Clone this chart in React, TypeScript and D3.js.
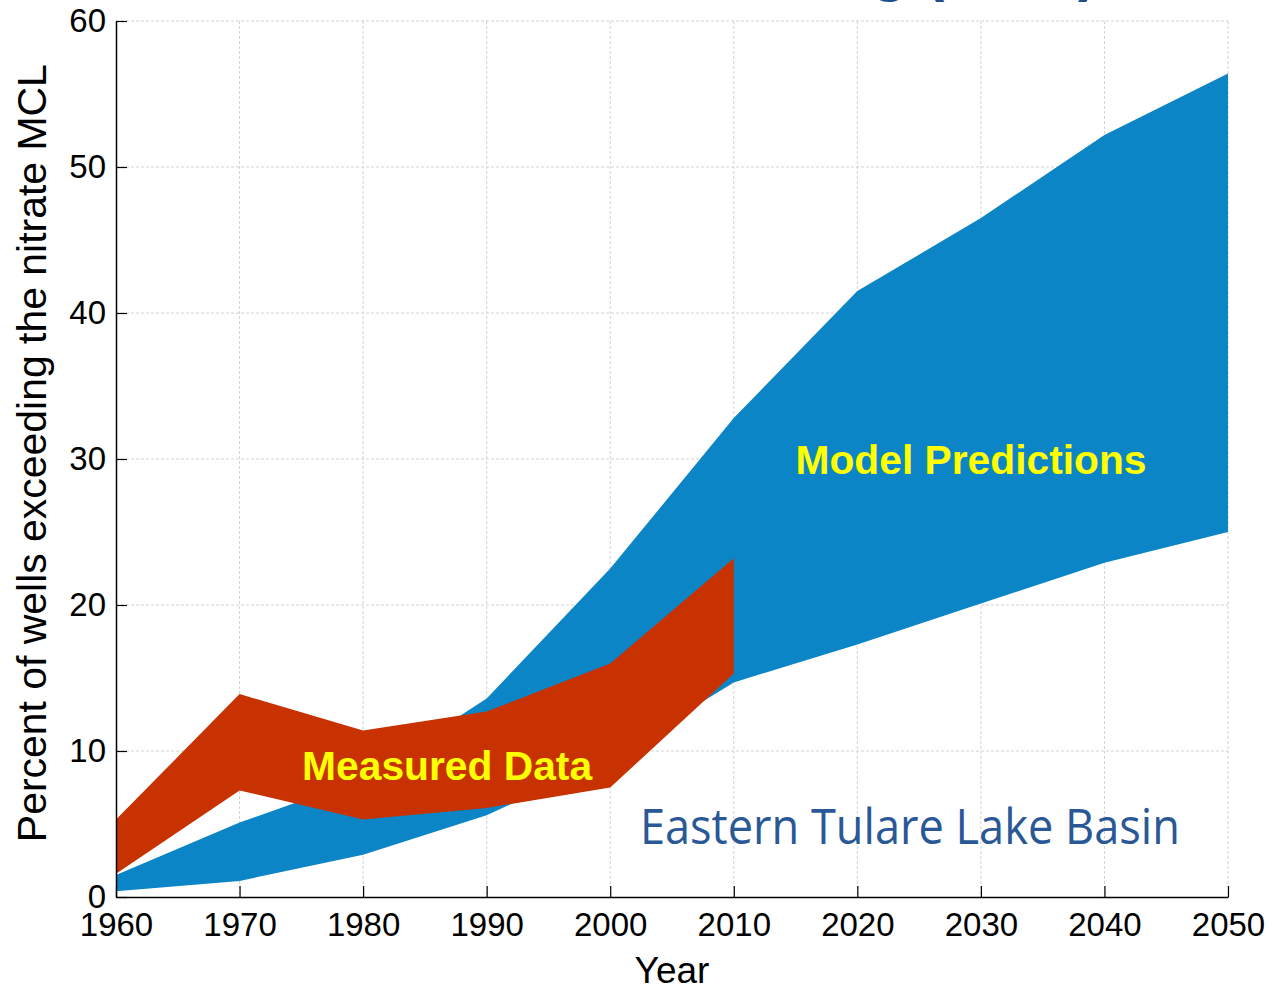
import React, { useEffect, useRef } from 'react';
import * as d3 from 'd3';

// years for each band
const modelYears = [1960, 1970, 1980, 1990, 2000, 2010, 2020, 2030, 2040, 2050];
const modelLow = [0.4, 1.1, 2.9, 5.6, 9.5, 14.7, 17.3, 20.1, 22.9, 25.0];
const modelHigh = [1.5, 5.1, 8.1, 13.6, 22.5, 32.8, 41.5, 46.5, 52.2, 56.4];

const measuredYears = [1960, 1970, 1980, 1990, 2000, 2010];
const measuredLow = [1.6, 7.3, 5.3, 6.1, 7.5, 15.3];
const measuredHigh = [5.3, 13.9, 11.4, 12.7, 16.0, 23.2];

const xTicks = [1960, 1970, 1980, 1990, 2000, 2010, 2020, 2030, 2040, 2050];
const yTicks = [0, 10, 20, 30, 40, 50, 60];

const BLUE = '#0c85c7';
const RED = '#c83200';
const YELLOW = '#ffff00';
const LABEL_BLUE = '#2a5896';
const FONT = '"Liberation Sans", Arial, sans-serif';

const App: React.FC = () => {
  const svgRef = useRef<SVGSVGElement | null>(null);

  useEffect(() => {
    if (!svgRef.current) return;
    document.body.style.margin = '0';

    const svg = d3.select(svgRef.current);
    svg.selectAll('*').remove();

    const margin = { top: 21, right: 44, bottom: 90, left: 116 };
    const width = 1272;
    const height = 987;
    const innerWidth = width - margin.left - margin.right;
    const innerHeight = height - margin.top - margin.bottom;

    const x = d3.scaleLinear().domain([1960, 2050]).range([0, innerWidth]);
    const y = d3.scaleLinear().domain([0, 60]).range([innerHeight, 0]);

    // partially cut-off title at the very top
    svg.append('text')
      .attr('x', 1098)
      .attr('y', -10)
      .attr('text-anchor', 'end')
      .attr('font-family', FONT)
      .attr('font-weight', 'bold')
      .attr('font-size', 60)
      .attr('fill', '#1f4e8c')
      .text('Nitrate Modeling (2050)');

    const g = svg.append('g')
      .attr('transform', `translate(${margin.left},${margin.top})`);

    // grid
    const grid = g.append('g');
    grid.selectAll('line.gx')
      .data(xTicks.slice(1))
      .enter().append('line')
      .attr('x1', d => x(d)).attr('x2', d => x(d))
      .attr('y1', 0).attr('y2', innerHeight)
      .attr('stroke', '#d2d2d2').attr('stroke-width', 1)
      .attr('stroke-dasharray', '3,2');
    grid.selectAll('line.gy')
      .data(yTicks.slice(1))
      .enter().append('line')
      .attr('x1', 0).attr('x2', innerWidth)
      .attr('y1', d => y(d)).attr('y2', d => y(d))
      .attr('stroke', '#d2d2d2').attr('stroke-width', 1)
      .attr('stroke-dasharray', '3,2');

    // bands
    const modelData = modelYears.map((yr, i) => ({ yr, lo: modelLow[i], hi: modelHigh[i] }));
    const measuredData = measuredYears.map((yr, i) => ({ yr, lo: measuredLow[i], hi: measuredHigh[i] }));

    const area = d3.area<{ yr: number; lo: number; hi: number }>()
      .x(d => x(d.yr))
      .y0(d => y(d.lo))
      .y1(d => y(d.hi));

    g.append('path').datum(modelData).attr('d', area).attr('fill', BLUE);
    g.append('path').datum(measuredData).attr('d', area).attr('fill', RED);

    // axes (MATLAB style, inward ticks)
    const xAxis = g.append('g')
      .attr('transform', `translate(0,${innerHeight})`)
      .call(d3.axisBottom(x).tickValues(xTicks).tickFormat(d3.format('d')).tickSizeInner(-11).tickSizeOuter(0).tickPadding(16));
    xAxis.select('.domain').attr('stroke', '#000').attr('stroke-width', 1.5);
    xAxis.selectAll('.tick line').attr('stroke', '#000').attr('stroke-width', 1.2);
    xAxis.selectAll('.tick text')
      .attr('font-family', FONT).attr('font-size', 33).attr('fill', '#000');

    const yAxis = g.append('g')
      .call(d3.axisLeft(y).tickValues(yTicks).tickSizeInner(-11).tickSizeOuter(0).tickPadding(10));
    yAxis.select('.domain').attr('stroke', '#000').attr('stroke-width', 1.5);
    yAxis.selectAll('.tick line').attr('stroke', '#000').attr('stroke-width', 1.2);
    yAxis.selectAll('.tick text')
      .attr('font-family', FONT).attr('font-size', 33).attr('fill', '#000');

    // axis titles
    svg.append('text')
      .attr('x', margin.left + x(2005))
      .attr('y', 983)
      .attr('text-anchor', 'middle')
      .attr('font-family', FONT).attr('font-size', 37)
      .text('Year');

    svg.append('text')
      .attr('transform', `translate(46,${margin.top + y(30.4)}) rotate(-90)`)
      .attr('text-anchor', 'middle')
      .attr('font-family', FONT).attr('font-size', 40)
      .attr('textLength', 778).attr('lengthAdjust', 'spacingAndGlyphs')
      .text('Percent of wells exceeding the nitrate MCL');

    // annotations
    g.append('text')
      .attr('x', x(2029.2)).attr('y', y(29.0))
      .attr('text-anchor', 'middle')
      .attr('font-family', FONT).attr('font-weight', 'bold').attr('font-size', 40)
      .attr('textLength', 351).attr('lengthAdjust', 'spacingAndGlyphs')
      .attr('fill', YELLOW)
      .text('Model Predictions');

    g.append('text')
      .attr('x', x(1986.8)).attr('y', y(8.0))
      .attr('text-anchor', 'middle')
      .attr('font-family', FONT).attr('font-weight', 'bold').attr('font-size', 40)
      .attr('textLength', 290).attr('lengthAdjust', 'spacingAndGlyphs')
      .attr('fill', YELLOW)
      .text('Measured Data');

    g.append('text')
      .attr('x', x(2002.4)).attr('y', y(3.6))
      .attr('font-family', '"Open Sans", "Noto Sans", sans-serif').attr('font-size', 50)
      .attr('textLength', 540).attr('lengthAdjust', 'spacingAndGlyphs')
      .attr('fill', LABEL_BLUE)
      .text('Eastern Tulare Lake Basin');
  }, []);

  return (
    <svg ref={svgRef} width={1272} height={987}
      style={{ display: 'block', position: 'absolute', left: 0, top: 0, background: '#fff' }} />
  );
};

export default App;
